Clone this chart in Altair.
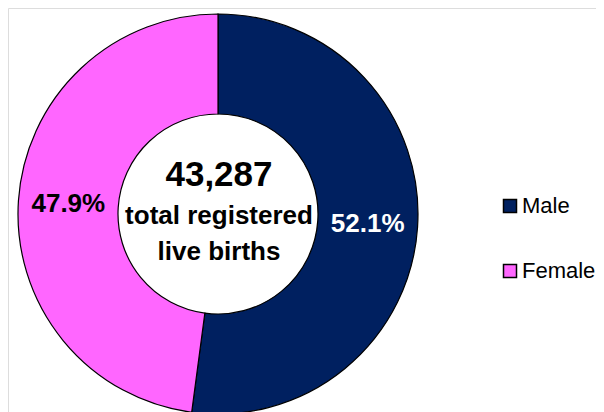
import altair as alt
import pandas as pd

sexes = ["Male", "Female"]
shares = [52.1, 47.9]
labels = ["52.1%", "47.9%"]
colors = ["#002060", "#FF66FF"]
order = [1, 2]
total_lines = ["43,287", "total registered", "live births"]

df = pd.DataFrame({"sex": sexes, "share": shares, "label": labels, "order": order})

CX, CY = 210, 206
W, H = 588, 404
FONT = "Liberation Sans, Arial"

base = alt.Chart(df).encode(
    theta=alt.Theta("share:Q", stack=True),
    order=alt.Order("order:Q"),
)

arc = base.mark_arc(outerRadius=200, innerRadius=100, stroke="black", strokeWidth=1.2).encode(
    x=alt.value(CX), y=alt.value(CY),
    color=alt.Color(
        "sex:N",
        scale=alt.Scale(domain=sexes, range=colors),
        legend=alt.Legend(
            title=None, orient="none", legendX=491, legendY=187,
            symbolType="square", symbolSize=169, symbolStrokeColor="black",
            symbolStrokeWidth=1.5, labelFontSize=22, labelFont=FONT,
            labelColor="black", rowPadding=43, labelOffset=1, padding=0,
        ),
    ),
)

pct = base.mark_text(radius=150, fontSize=26, fontWeight="bold", font=FONT, baseline="middle").encode(
    x=alt.value(CX), y=alt.value(CY),
    text="label:N",
    color=alt.condition(alt.datum.sex == "Male", alt.value("white"), alt.value("black")),
)

ctr_df = pd.DataFrame({"t": total_lines, "dy": [-28, 10, 46], "fs": [35, 26, 26]})
centre = alt.Chart(ctr_df).mark_text(fontWeight="bold", font=FONT, color="black", baseline="alphabetic").encode(
    x=alt.value(CX + 1),
    y=alt.Y("dy:Q", scale=alt.Scale(domain=[-CY, H - CY], range=[0, H]), axis=None),
    text="t:N",
    size=alt.Size("fs:Q", scale=None, legend=None),
)

chart = alt.layer(arc, pct, centre).properties(
    width=W, height=H, padding=0, autosize=alt.AutoSizeParams(type="none"),
).configure_view(strokeWidth=0).configure(background="white")

chart.save("out.html", embed_options={"renderer": "svg", "actions": False})
